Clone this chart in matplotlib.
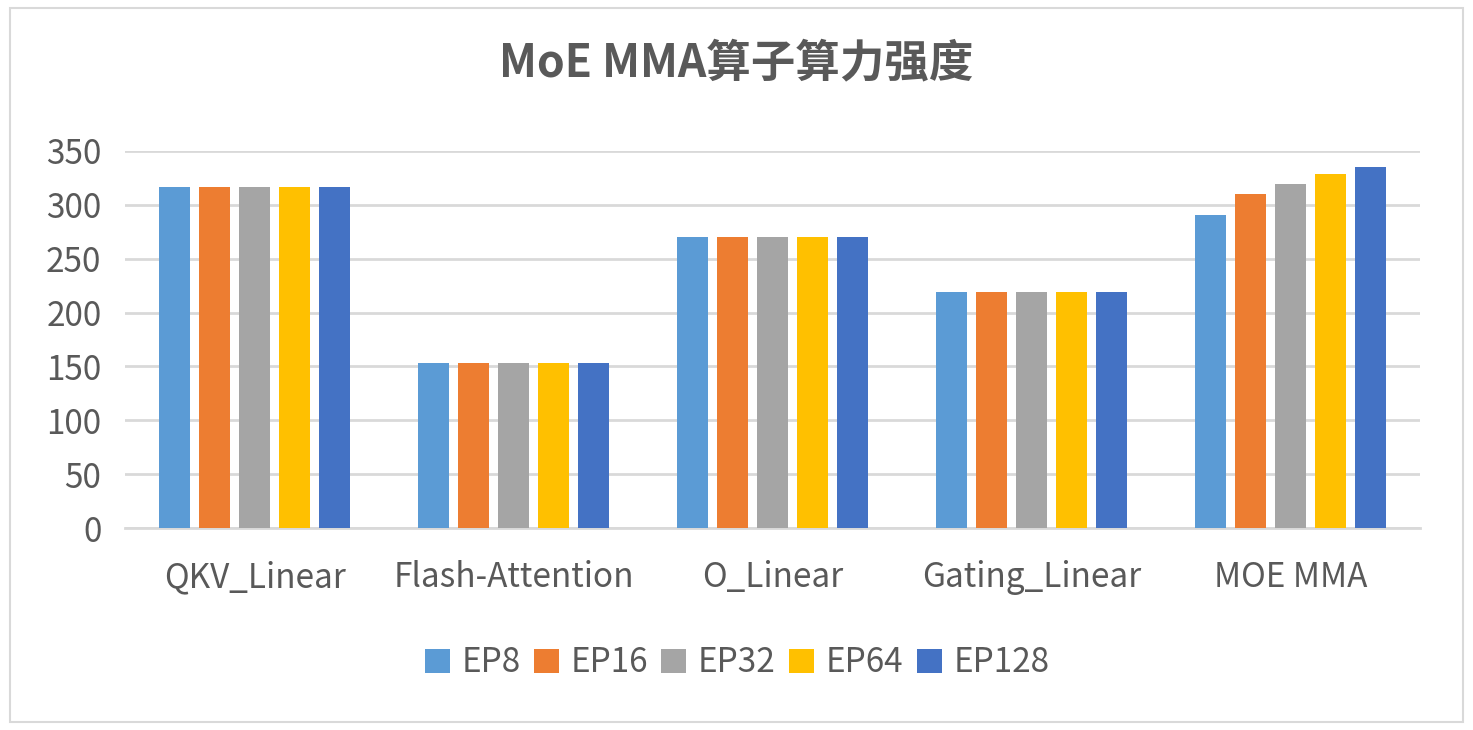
import matplotlib
matplotlib.use("Agg")
import matplotlib.pyplot as plt
import numpy as np
from matplotlib.patches import Rectangle

plt.rcParams['font.family'] = ['Noto Sans CJK SC', 'DejaVu Sans']

categories = ["QKV_Linear", "Flash-Attention", "O_Linear", "Gating_Linear", "MOE MMA"]
series_names = ["EP8", "EP16", "EP32", "EP64", "EP128"]
EP8 = [317, 153, 270, 219, 291]
EP16 = [317, 153, 270, 219, 310]
EP32 = [317, 153, 270, 219, 319]
EP64 = [317, 153, 270, 219, 329]
EP128 = [317, 153, 270, 219, 335]
series_values = [EP8, EP16, EP32, EP64, EP128]
colors = ["#5B9BD5", "#ED7D31", "#A5A5A5", "#FFC000", "#4472C4"]
yticks = [0, 50, 100, 150, 200, 250, 300, 350]

text_color = "#595959"
fig = plt.figure(figsize=(14.73, 7.30), dpi=100)
fig.patches.append(Rectangle((10/1473, 8/730), 1453/1473, 714/730, transform=fig.transFigure,
                             fill=False, edgecolor="#D9D9D9", linewidth=1.5))
ax = fig.add_axes([125/1473, 1-528/730, 1295/1473, 377/730])

x = np.arange(len(categories))
slot = 0.1545
width = 0.12
for i, (name, vals, c) in enumerate(zip(series_names, series_values, colors)):
    ax.bar(x + (i - 2) * slot, vals, width, color=c, label=name, zorder=3)

ax.set_xlim(-0.5, len(categories) - 0.5)
ax.set_ylim(0, 350)
ax.set_yticks(yticks)
ax.yaxis.grid(True, color="#D9D9D9", linewidth=2, zorder=0)
for s in ["top", "right", "left"]:
    ax.spines[s].set_visible(False)
ax.spines["bottom"].set_color("#D9D9D9")
ax.spines["bottom"].set_linewidth(2)
ax.tick_params(axis="both", length=0, labelsize=24, colors=text_color)
ax.tick_params(axis="x", pad=23)
ax.tick_params(axis="y", pad=17)
ax.set_xticks(x)
ax.set_xticklabels(categories)

fig.text(0.5, 1 - 63/730, "MoE MMA算子算力强度", ha="center", va="center",
         fontsize=32, fontweight="bold", color=text_color)

leg = fig.legend(loc="center", bbox_to_anchor=(737/1473, 1 - 663/730), ncol=5, frameon=False,
                 fontsize=24, handlelength=0.75, handleheight=0.75, handletextpad=0.35,
                 columnspacing=0.4, labelcolor=text_color)

fig.savefig("out.png", dpi=100)
